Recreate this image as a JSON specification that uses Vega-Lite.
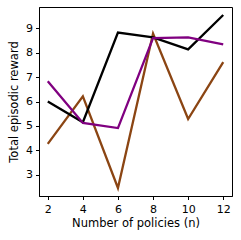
{
  "$schema": "https://vega.github.io/schema/vega-lite/v6.json",
  "width": 193,
  "height": 189,
  "autosize": {"type": "none"},
  "padding": {"left": 39, "top": 7, "right": 9, "bottom": 44},
  "background": "white",
  "config": {
    "view": {"stroke": "black", "strokeWidth": 1},
    "axis": {
      "grid": false,
      "domainColor": "black",
      "tickColor": "black",
      "tickSize": 3.5,
      "labelFont": "DejaVu Sans",
      "labelFontSize": 11,
      "labelColor": "black",
      "titleFont": "DejaVu Sans",
      "titleFontSize": 11.5,
      "titleFontWeight": "normal",
      "titleColor": "black"
    }
  },
  "data": {
    "values": [
      {"series": "A", "n": 2, "reward": 4.26},
      {"series": "A", "n": 4, "reward": 6.21},
      {"series": "A", "n": 6, "reward": 2.45},
      {"series": "A", "n": 8, "reward": 8.79},
      {"series": "A", "n": 10, "reward": 5.28},
      {"series": "A", "n": 12, "reward": 7.62},
      {"series": "B", "n": 2, "reward": 6.0},
      {"series": "B", "n": 4, "reward": 5.15},
      {"series": "B", "n": 6, "reward": 8.83},
      {"series": "B", "n": 8, "reward": 8.63},
      {"series": "B", "n": 10, "reward": 8.14},
      {"series": "B", "n": 12, "reward": 9.55},
      {"series": "C", "n": 2, "reward": 6.83},
      {"series": "C", "n": 4, "reward": 5.12},
      {"series": "C", "n": 6, "reward": 4.91},
      {"series": "C", "n": 8, "reward": 8.6},
      {"series": "C", "n": 10, "reward": 8.63},
      {"series": "C", "n": 12, "reward": 8.35}
    ]
  },
  "mark": {"type": "line", "strokeWidth": 2.3, "clip": true},
  "encoding": {
    "x": {
      "field": "n",
      "type": "quantitative",
      "scale": {"domain": [1.5, 12.5], "nice": false, "zero": false},
      "axis": {"values": [2, 4, 6, 8, 10, 12], "title": "Number of policies (n)", "labelPadding": 4, "titlePadding": 3, "labelFlush": false}
    },
    "y": {
      "field": "reward",
      "type": "quantitative",
      "scale": {"domain": [2.12, 9.88], "nice": false, "zero": false},
      "axis": {"values": [3, 4, 5, 6, 7, 8, 9], "title": "Total episodic reward", "labelPadding": 3, "titlePadding": 6, "labelFlush": false}
    },
    "color": {
      "field": "series",
      "type": "nominal",
      "scale": {"domain": ["A", "B", "C"], "range": ["#8B4513", "#000000", "#800080"]},
      "legend": null
    }
  }
}
